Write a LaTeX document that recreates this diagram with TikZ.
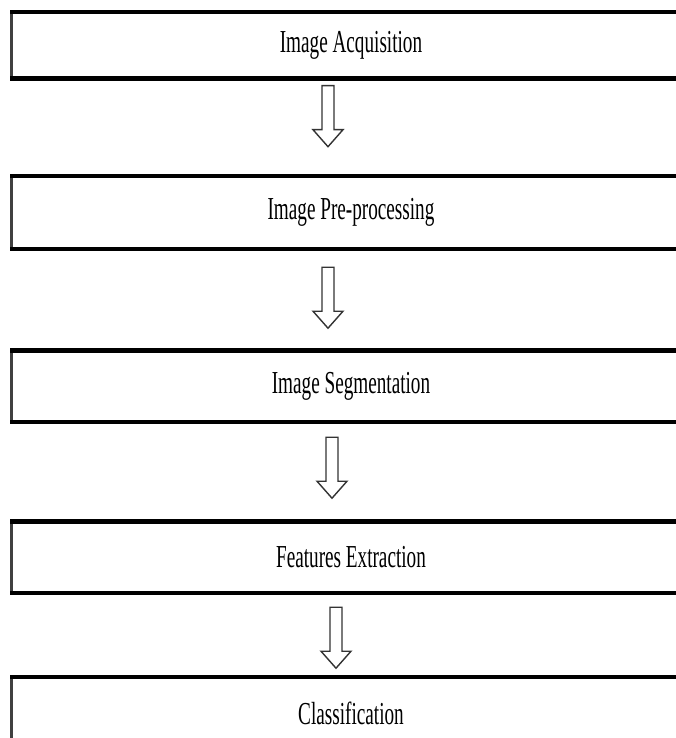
\documentclass[tikz,border=0pt]{standalone}
\usepackage{fontspec}
\setmainfont{Liberation Serif}[FakeStretch=0.6]
\begin{document}
\begin{tikzpicture}[x=1pt,y=-1pt,
  stepbox/.style={draw=none,inner sep=0pt,minimum width=678pt,font=\fontsize{32}{32}\selectfont},
  edgeh/.style={line width=4.5pt,black},
  edgev/.style={line width=3pt,black!75},
  barrow/.style={draw=black!80,line width=1.4pt,fill=white,line join=miter}]
\useasboundingbox (0,0) rectangle (676,738);
\fill[white] (0,0) rectangle (676,738);
% boxes
\node[stepbox,minimum height=66.5pt] (b1) at (351,45.25) {Image Acquisition};
\node[stepbox,minimum height=73pt] (b2) at (351,212.5) {Image Pre-processing};
\node[stepbox,minimum height=71.5pt] (b3) at (351,386.25) {Image Segmentation};
\node[stepbox,minimum height=71.5pt] (b4) at (351,557.25) {Features Extraction};
\node[stepbox,minimum height=72pt] (b5) at (351,713) {Classification};
\foreach \b in {b1,b2,b3,b4,b5}{
  \draw[edgev] (\b.north west) -- (\b.south west);
  \draw[edgeh] ([xshift=-1.5pt]\b.north west) -- (\b.north east);
  \draw[edgeh] ([xshift=-1.5pt]\b.south west) -- (\b.south east);
}
% arrows
\coordinate (t1) at ([xshift=-23pt,yshift=-7pt]b1.south);
\coordinate (t2) at ([xshift=-23pt,yshift=-18pt]b2.south);
\coordinate (t3) at ([xshift=-19pt,yshift=-15pt]b3.south);
\coordinate (t4) at ([xshift=-15pt,yshift=-14pt]b4.south);
\foreach \t in {t1,t2,t3,t4}{
  \draw[barrow] (\t) ++(-6,0) -- ++(0,44) -- ++(-9,0) -- ++(15,17) -- ++(15,-17) -- ++(-9,0) -- ++(0,-44) -- cycle;
}
\end{tikzpicture}
\end{document}
